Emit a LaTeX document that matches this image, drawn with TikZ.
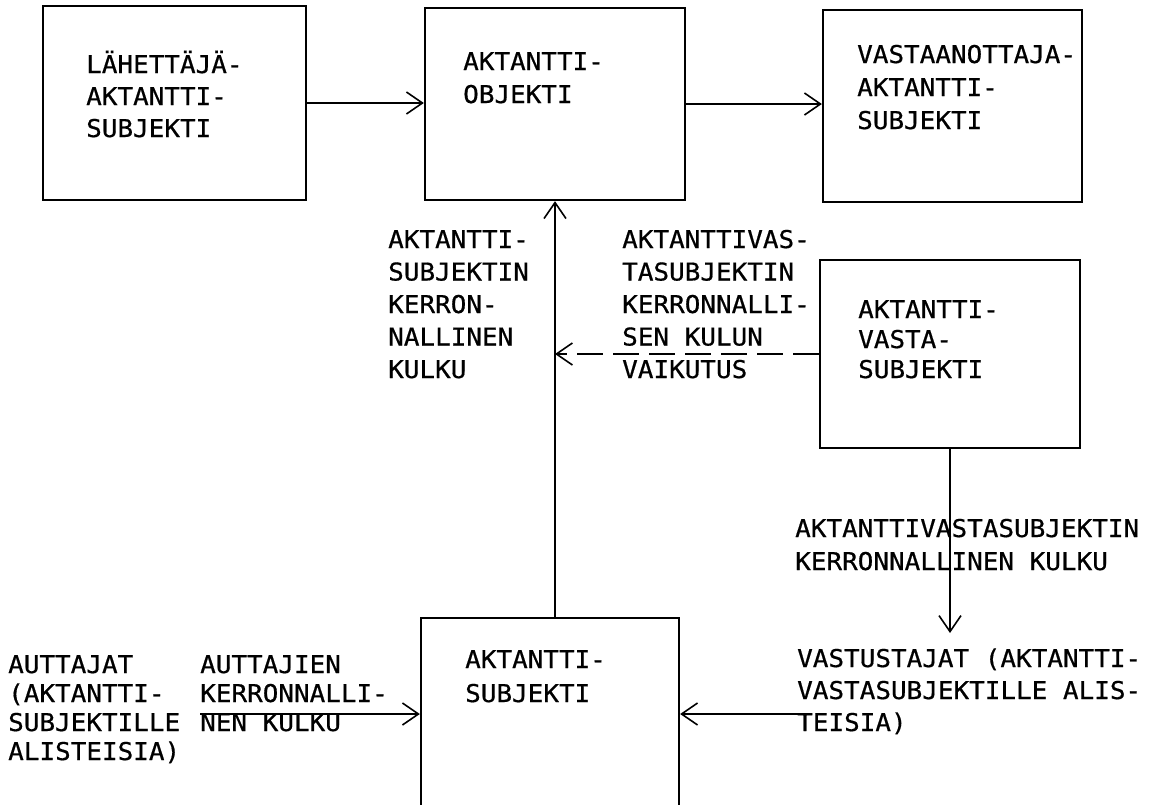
\documentclass[tikz,border=0pt]{standalone}
\usepackage{fontspec}
\setmonofont[FakeStretch=1.06,FakeBold=0.6]{DejaVu Sans Mono}
\usetikzlibrary{arrows.meta}
\begin{document}
\begin{tikzpicture}[x=1pt,y=-1pt,
  box/.style={draw, line width=2.3pt, inner sep=0pt},
  lbl/.style={font=\fontsize{24.5}{#1}\selectfont\ttfamily, align=left, anchor=base west, inner sep=0pt},
  lbl/.default=32,
  arr/.style={line width=1.6pt, -{Straight Barb[length=16pt,width=22pt,line width=1.6pt]}},
  dashline/.style={dash pattern=on 26pt off 10pt}]
\useasboundingbox (0,0) rectangle (1163,804);
\clip (0,0) rectangle (1163,804);
% boxes
\node[box, minimum width=263pt, minimum height=194pt] (B1) at (174.5,103) {};
\node[box, minimum width=260pt, minimum height=192pt] (B2) at (555,104) {};
\node[box, minimum width=259pt, minimum height=192pt] (B3) at (952.5,106) {};
\node[box, minimum width=260pt, minimum height=188pt] (B4) at (950,354) {};
\node[box, minimum width=258pt, minimum height=220pt] (B5) at (550,728) {};
% box texts (anchor = baseline of last line)
\node[lbl=32] (T1) at (86,137) {LÄHETTÄJÄ-\\AKTANTTI-\\SUBJEKTI};
\node[lbl=33] (T2) at (463,103) {AKTANTTI-\\OBJEKTI};
\node[lbl=33] (T3) at (857,129) {VASTAANOTTAJA-\\AKTANTTI-\\SUBJEKTI};
\node[lbl=30] (T4) at (858,378) {AKTANTTI-\\VASTA-\\SUBJEKTI};
\node[lbl=34] (T5) at (465,702) {AKTANTTI-\\SUBJEKTI};
% other labels
\node[lbl=32.5] (L1) at (388,378) {AKTANTTI-\\SUBJEKTIN\\KERRON-\\NALLINEN\\KULKU};
\node[lbl=32.5] (L2) at (622,378) {AKTANTTIVAS-\\TASUBJEKTIN\\KERRONNALLI-\\SEN KULUN\\VAIKUTUS};
\node[lbl=33] (L3) at (795,570) {AKTANTTIVASTASUBJEKTIN\\KERRONNALLINEN KULKU};
\node[lbl=32] (L4) at (797,731) {VASTUSTAJAT (AKTANTTI-\\VASTASUBJEKTILLE ALIS-\\TEISIA)};
\node[lbl=29] (L5) at (8,760) {AUTTAJAT\\(AKTANTTI-\\SUBJEKTILLE\\ALISTEISIA)};
\node[lbl=29] (L6) at (200,731) {AUTTAJIEN\\KERRONNALLI-\\NEN KULKU};
% connectors
\draw[arr] (B1.east) -- (B1.east -| B2.west);
\draw[arr] (B2.east) -- (B2.east -| B3.west);
\draw[arr] (B5.north -| B2.south) -- (B2.south);
\coordinate (dj) at (B2.south |- B4.west);
\draw[arr, dashline] (B4.west) -- (dj);
\coordinate (vt) at (950,633);
\draw[arr] (B4.south) -- (vt);
\coordinate (ha) at (200,714);
\draw[arr] (ha) -- (ha -| B5.west);
\coordinate (hb) at (798,714);
\draw[arr] (hb) -- (hb -| B5.east);
\end{tikzpicture}
\end{document}
